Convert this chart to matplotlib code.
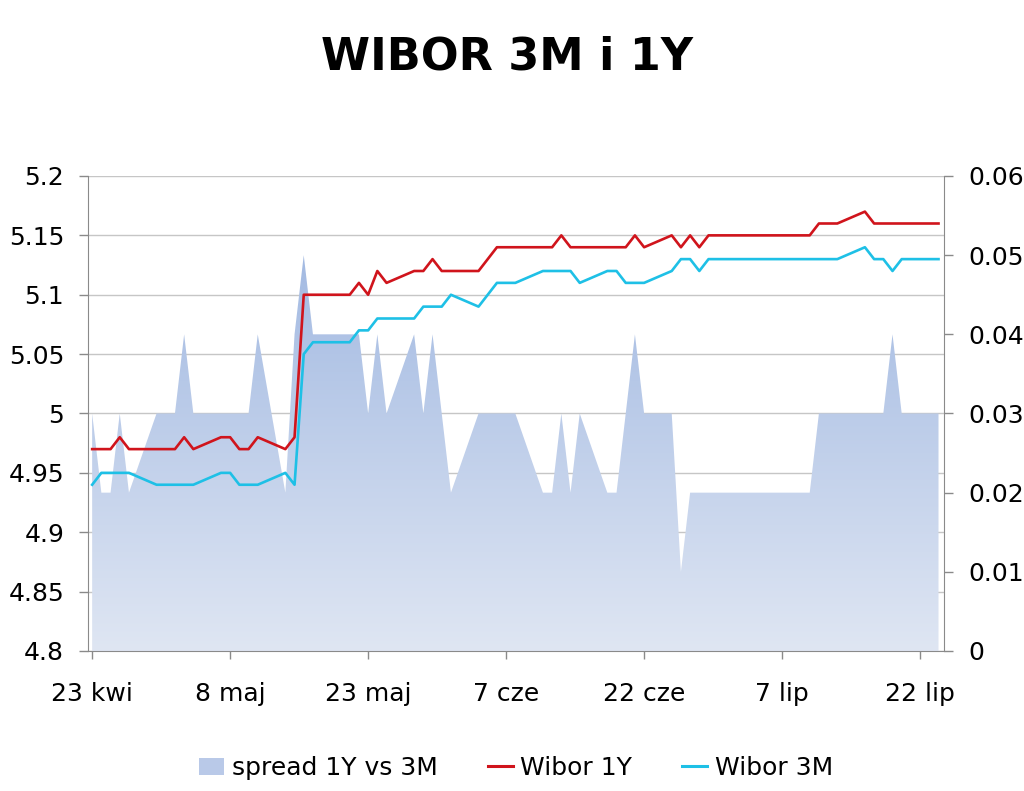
import numpy as np
import pandas as pd
import matplotlib
matplotlib.use('Agg')
import matplotlib.pyplot as plt
import matplotlib.dates as mdates
from matplotlib.colors import LinearSegmentedColormap
from matplotlib.lines import Line2D
from matplotlib.patches import Patch

plt.rcParams['font.family'] = ['DejaVu Sans']

# notowania w dni robocze 23.04 - 24.07
dates = pd.bdate_range('2012-04-23', '2012-07-24')

wibor_1y = [
    4.97, 4.97, 4.97, 4.98, 4.97,
    4.97, 4.97, 4.97, 4.98, 4.97,
    4.98, 4.98, 4.97, 4.97, 4.98,
    4.97, 4.98, 5.10, 5.10, 5.10,
    5.10, 5.11, 5.10, 5.12, 5.11,
    5.12, 5.12, 5.13, 5.12, 5.12,
    5.12, 5.13, 5.14, 5.14, 5.14,
    5.14, 5.14, 5.15, 5.14, 5.14,
    5.14, 5.14, 5.14, 5.15, 5.14,
    5.15, 5.14, 5.15, 5.14, 5.15,
    5.15, 5.15, 5.15, 5.15, 5.15,
    5.15, 5.15, 5.16, 5.16, 5.16,
    5.17, 5.16, 5.16, 5.16, 5.16,
    5.16, 5.16]

wibor_3m = [
    4.94, 4.95, 4.95, 4.95, 4.95,
    4.94, 4.94, 4.94, 4.94, 4.94,
    4.95, 4.95, 4.94, 4.94, 4.94,
    4.95, 4.94, 5.05, 5.06, 5.06,
    5.06, 5.07, 5.07, 5.08, 5.08,
    5.08, 5.09, 5.09, 5.09, 5.10,
    5.09, 5.10, 5.11, 5.11, 5.11,
    5.12, 5.12, 5.12, 5.12, 5.11,
    5.12, 5.12, 5.11, 5.11, 5.11,
    5.12, 5.13, 5.13, 5.12, 5.13,
    5.13, 5.13, 5.13, 5.13, 5.13,
    5.13, 5.13, 5.13, 5.13, 5.13,
    5.14, 5.13, 5.13, 5.12, 5.13,
    5.13, 5.13]

spread = [
    0.03, 0.02, 0.02, 0.03, 0.02,
    0.03, 0.03, 0.03, 0.04, 0.03,
    0.03, 0.03, 0.03, 0.03, 0.04,
    0.02, 0.04, 0.05, 0.04, 0.04,
    0.04, 0.04, 0.03, 0.04, 0.03,
    0.04, 0.03, 0.04, 0.03, 0.02,
    0.03, 0.03, 0.03, 0.03, 0.03,
    0.02, 0.02, 0.03, 0.02, 0.03,
    0.02, 0.02, 0.03, 0.04, 0.03,
    0.03, 0.01, 0.02, 0.02, 0.02,
    0.02, 0.02, 0.02, 0.02, 0.02,
    0.02, 0.02, 0.03, 0.03, 0.03,
    0.03, 0.03, 0.03, 0.04, 0.03,
    0.03, 0.03]

tick_dates = pd.to_datetime(['2012-04-23', '2012-05-08', '2012-05-23', '2012-06-07',
                             '2012-06-22', '2012-07-07', '2012-07-22'])
tick_labels = ['23 kwi', '8 maj', '23 maj', '7 cze', '22 cze', '7 lip', '22 lip']

left_ticks = [4.8, 4.85, 4.9, 4.95, 5.0, 5.05, 5.1, 5.15, 5.2]
right_ticks = [0, 0.01, 0.02, 0.03, 0.04, 0.05, 0.06]

red = '#d0141c'
cyan = '#1ec0e6'
axis_col = '#8a8a8a'
grid_col = '#c6c6c6'

x = mdates.date2num(dates)

fig = plt.figure(figsize=(10.24, 7.91), dpi=100)
ax2 = fig.add_axes([0.0864, 0.177, 0.8355, 0.6005])
ax = ax2.twinx()
ax.yaxis.tick_left()
ax2.yaxis.tick_right()
ax.set_zorder(2)
ax.patch.set_visible(False)
ax2.set_zorder(1)

# obszar spreadu z gradientem
poly = ax2.fill_between(x, 0, spread, facecolor='none', edgecolor='none', zorder=2)
cmap = LinearSegmentedColormap.from_list('spr', ['#dfe6f3', '#a3bae2'])
grad = np.linspace(0, 1, 256).reshape(-1, 1)
im = ax2.imshow(grad, extent=[x[0], x[-1], 0, max(spread)], origin='lower',
                aspect='auto', cmap=cmap, zorder=2)
im.set_clip_path(poly.get_paths()[0], transform=ax2.transData)

ax.plot(x, wibor_1y, color=red, lw=1.9, zorder=3)
ax.plot(x, wibor_3m, color=cyan, lw=1.9, zorder=3)

xl = (x[0] - 0.4, x[-1] + 0.6)
ax.set_xlim(xl)
ax2.set_xlim(xl)
ax.set_ylim(4.8, 5.2)
ax2.set_ylim(0, 0.06)

# siatka pod obszarem
ax2.hlines(left_ticks, 0, 1, transform=ax.get_yaxis_transform(),
           colors=grid_col, lw=1.0, zorder=1)

ax.set_yticks(left_ticks)
ax.set_yticklabels(['{:g}'.format(v) for v in left_ticks])
ax2.set_yticks(right_ticks)
ax2.set_yticklabels(['{:g}'.format(v) for v in right_ticks])
ax2.set_xticks(mdates.date2num(tick_dates))
ax2.set_xticklabels(tick_labels)
ax.tick_params(axis='x', bottom=False, labelbottom=False)

ax.tick_params(axis='y', length=6.5, width=1, color=axis_col, pad=11, labelsize=18)
ax2.tick_params(axis='y', length=6.5, width=1, color=axis_col, pad=11, labelsize=18)
ax2.tick_params(axis='x', length=6, width=1, color=axis_col, pad=16, labelsize=18)

for a in (ax, ax2):
    a.spines['top'].set_visible(False)
ax.spines['right'].set_visible(False)
ax.spines['bottom'].set_visible(False)
ax.spines['left'].set_color(axis_col)
ax2.spines['left'].set_visible(False)
ax2.spines['right'].set_color(axis_col)
ax2.spines['bottom'].set_color(axis_col)

fig.text(0.495, 1 - 57 / 791, 'WIBOR 3M i 1Y', ha='center', va='center',
         fontsize=32, fontweight='bold')

handles = [Patch(facecolor='#b9c9e8', edgecolor='none'),
           Line2D([], [], color=red, lw=2.2),
           Line2D([], [], color=cyan, lw=2.2)]
fig.legend(handles, ['spread 1Y vs 3M', 'Wibor 1Y', 'Wibor 3M'], loc='center',
           bbox_to_anchor=(0.504, 1 - 768 / 791), ncol=3, frameon=False,
           fontsize=18, handlelength=1.0, handletextpad=0.3, columnspacing=2.0)

fig.savefig('out.png', dpi=100)
